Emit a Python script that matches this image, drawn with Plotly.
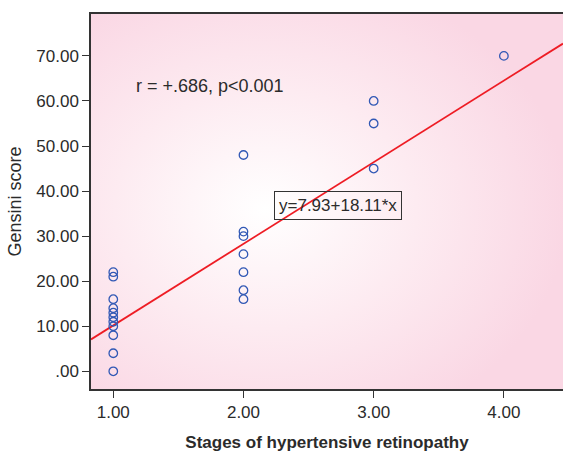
import base64
import plotly.graph_objects as go

# Data
stage = [1]*11 + [2]*7 + [3]*3 + [4]
gensini = [22, 21, 16, 14, 13, 12, 11, 10, 8, 4, 0,
           48, 31, 30, 26, 22, 18, 16,
           60, 55, 45,
           70]
intercept = -7.93
slope = 18.11
y_tick_vals = [0, 10, 20, 30, 40, 50, 60, 70]
y_tick_text = [".00", "10.00", "20.00", "30.00", "40.00", "50.00", "60.00", "70.00"]
x_tick_vals = [1, 2, 3, 4]
x_tick_text = ["1.00", "2.00", "3.00", "4.00"]

x_range = [0.829, 4.454]
y_range = [-3.93, 79.3]

FONT = "Liberation Sans, Arial, sans-serif"
TXT = "#2b2b2b"

svg = (
    '<svg xmlns="http://www.w3.org/2000/svg" width="500" height="400" viewBox="0 0 500 400" preserveAspectRatio="none">'
    '<defs><radialGradient id="g" cx="0.37" cy="0.52" r="0.64">'
    '<stop offset="0" stop-color="#ffffff"/>'
    '<stop offset="0.5" stop-color="#fdebf1"/>'
    '<stop offset="1" stop-color="#fad7e4"/>'
    '</radialGradient></defs>'
    '<rect width="500" height="400" fill="url(#g)"/></svg>'
)
src = "data:image/svg+xml;base64," + base64.b64encode(svg.encode()).decode()

fig = go.Figure()

fig.add_trace(go.Scatter(
    x=x_range,
    y=[intercept + slope * v for v in x_range],
    mode="lines",
    line=dict(color="#ee1c24", width=1.8),
    hoverinfo="skip",
))

fig.add_trace(go.Scatter(
    x=stage, y=gensini, mode="markers",
    marker=dict(symbol="circle-open", size=8.5, color="#3158b5", line=dict(width=1.3)),
))

fig.add_annotation(
    x=1.163, y=63.3, xref="x", yref="y", text="r = +.686, p<0.001",
    showarrow=False, xanchor="left", yanchor="middle",
    font=dict(family=FONT, size=18, color=TXT),
)
fig.add_annotation(
    x=2.727, y=36.7, xref="x", yref="y", text="y=7.93+18.11*x",
    showarrow=False, xanchor="center", yanchor="middle",
    font=dict(family=FONT, size=17, color=TXT),
    bordercolor="#333333", borderwidth=1, borderpad=4,
)

fig.update_layout(
    width=563, height=453,
    margin=dict(l=91, r=0, t=14, b=64),
    paper_bgcolor="white",
    plot_bgcolor="#fad7e4",
    showlegend=False,
    font=dict(family=FONT, size=17, color=TXT),
    images=[dict(source=src, xref="paper", yref="paper", x=0, y=1,
                 sizex=1, sizey=1, sizing="stretch", layer="below")],
    xaxis=dict(
        range=x_range, tickvals=x_tick_vals, ticktext=x_tick_text,
        showgrid=False, zeroline=False,
        showline=True, linecolor="#333333", linewidth=1.5, mirror=True,
        ticks="outside", ticklen=7, tickcolor="#333333", tickwidth=1,
        tickfont=dict(family=FONT, size=17, color=TXT),
        title=dict(text="<b>Stages of hypertensive retinopathy</b>",
                   font=dict(family=FONT, size=17, color=TXT), standoff=15),
    ),
    yaxis=dict(
        range=y_range, tickvals=y_tick_vals, ticktext=y_tick_text,
        showgrid=False, zeroline=False,
        showline=True, linecolor="#333333", linewidth=1.5,
        ticks="outside", ticklen=7, tickcolor="#333333", tickwidth=1,
        tickfont=dict(family=FONT, size=17, color=TXT),
        title=dict(text="Gensini score",
                   font=dict(family=FONT, size=18, color=TXT), standoff=10),
    ),
)

fig.write_html(
    "out.html",
    config={"displayModeBar": False},
    post_script="document.body.style.margin='0';document.body.style.overflow='hidden';",
)
